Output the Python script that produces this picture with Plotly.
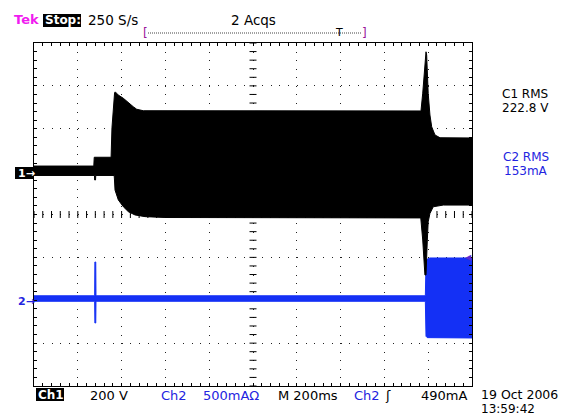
import numpy as np
import plotly.graph_objects as go

# ---------------- figure geometry (pixels) ----------------
W, H = 571, 416
PL, PR, PT, PB = 34, 472, 43, 386   # graticule box

# ---------------- scope settings ----------------
MS_PER_DIV = 200.0      # M 200ms
N_XDIV, N_YDIV = 10, 8
CH1_V_PER_DIV = 200.0   # Ch1 200 V
CH1_OFFSET_DIV = 1.0
CH2_MA_PER_DIV = 500.0  # Ch2 500mA
CH2_OFFSET_DIV = -2.0

# ---------------- Ch1 envelope (time ms, volts) ----------------
ch1_t_upper = [0, 273, 275, 352, 356, 363, 368, 371, 385, 408, 431, 453, 469, 499,
               1765, 1767, 1775, 1781, 1785, 1790, 1793, 1796, 1800, 1808, 1816,
               1831, 1854, 2000]
ch1_v_upper = [26, 26, 67, 67, 204, 334, 368, 372, 357, 342, 320, 303, 291, 284,
               283, 283, 366, 459, 521, 559, 544, 459, 365, 264, 209,
               171, 158, 157]
ch1_t_lower = [0, 276, 277, 281, 282, 366, 367, 370, 385, 408, 431, 461, 507, 598,
               1766, 1775, 1781, 1785, 1790, 1793, 1796, 1800, 1808, 1823, 1869, 2000]
ch1_v_lower = [-18, -18, -39, -39, -18, -18, -30, -86, -132, -164, -187, -202, -210, -214,
               -216, -319, -397, -482, -482, -397, -319, -234, -195, -164, -156, -156]

# ---------------- Ch2 envelope (time ms, mA) ----------------
ch2_t = [0, 277, 278, 282, 283, 1787, 1790, 1796, 1808, 2000]
ch2_i_upper = [52, 52, 446, 446, 52, 52, 440, 480, 493, 493]
ch2_i_lower = [-12, -12, -265, -265, -12, -12, -420, -436, -440, -440]

# ---------------- readouts ----------------
top_labels = {"tek": "Tek", "stop": "Stop:", "rate": "250 S/s", "acqs": "2 Acqs"}
meas1 = ["C1 RMS", "222.8 V"]
meas2 = ["C2 RMS", "153mA"]
bottom_labels = ["200 V", "Ch2", "500mAΩ", "M 200ms", "Ch2", "ʃ", "490mA"]
date_str, time_str = "19 Oct 2006", "13:59:42"

BLUE = "#1430f5"
TXTBLUE = "#2323e0"
MAGENTA = "#f01cf0"
PURPLE = "#9a149a"
FONT = "DejaVu Sans"


def ch1_div(v):
    return [CH1_OFFSET_DIV + x / CH1_V_PER_DIV for x in v]


def ch2_div(i):
    return [CH2_OFFSET_DIV + x / CH2_MA_PER_DIV for x in i]


def px(x):
    return (x - PL) / (PR - PL)


def py(y):
    return (PB - y) / (PB - PT)


fig = go.Figure()

# centre-line ruler ticks (graticule decoration)
xr = np.arange(0, MS_PER_DIV * N_XDIV + 1, MS_PER_DIV / 5)
yr = np.arange(-N_YDIV / 2, N_YDIV / 2 + 0.01, 0.2)
fig.add_trace(go.Scatter(x=xr, y=np.zeros_like(xr), mode="markers",
                         marker=dict(symbol="line-ns", size=5, line=dict(width=1, color="black")),
                         hoverinfo="skip", showlegend=False))
fig.add_trace(go.Scatter(x=np.full_like(yr, MS_PER_DIV * N_XDIV / 2), y=yr, mode="markers",
                         marker=dict(symbol="line-ew", size=5, line=dict(width=1, color="black")),
                         hoverinfo="skip", showlegend=False))

# Ch2 (blue)
fig.add_trace(go.Scatter(
    x=ch2_t + ch2_t[::-1],
    y=ch2_div(ch2_i_upper) + ch2_div(ch2_i_lower)[::-1],
    mode="lines", fill="toself", fillcolor=BLUE,
    line=dict(color=BLUE, width=1), hoverinfo="skip", showlegend=False))

# Ch1 (black)
fig.add_trace(go.Scatter(
    x=ch1_t_upper + ch1_t_lower[::-1],
    y=ch1_div(ch1_v_upper) + ch1_div(ch1_v_lower)[::-1],
    mode="lines", fill="toself", fillcolor="black",
    line=dict(color="black", width=1), hoverinfo="skip", showlegend=False))

fig.update_xaxes(range=[0, MS_PER_DIV * N_XDIV], dtick=MS_PER_DIV, tick0=0,
                 showgrid=True, gridcolor="#222", gridwidth=1, griddash="1px,7.575px",
                 ticks="inside", ticklen=3, tickcolor="black", showticklabels=False,
                 showline=True, linecolor="black", linewidth=1, mirror="allticks",
                 zeroline=False,
                 minor=dict(dtick=MS_PER_DIV / 5, ticks="inside", ticklen=3,
                            tickcolor="black", showgrid=False))
fig.update_yaxes(range=[-N_YDIV / 2, N_YDIV / 2], dtick=1, tick0=0,
                 showgrid=True, gridcolor="#222", gridwidth=1, griddash="1px,7.76px",
                 ticks="inside", ticklen=3, tickcolor="black", showticklabels=False,
                 showline=True, linecolor="black", linewidth=1, mirror="allticks",
                 zeroline=False,
                 minor=dict(dtick=0.2, ticks="inside", ticklen=3,
                            tickcolor="black", showgrid=False))

ann = []
shapes = []


def text(x, y, s, size=13, color="black", anchor="left", bold=False):
    ann.append(dict(x=px(x), y=py(y), xref="paper", yref="paper", text=(f"<b>{s}</b>" if bold else s),
                    showarrow=False, xanchor=anchor, yanchor="middle", borderpad=0,
                    font=dict(family=FONT, size=size, color=color)))


def box(x0, y0, x1, y1, color="black"):
    shapes.append(dict(type="rect", xref="paper", yref="paper", x0=px(x0), x1=px(x1),
                       y0=py(y1), y1=py(y0), fillcolor=color, line=dict(width=0), layer="above"))


# top bar
text(13, 20, top_labels["tek"], 13, MAGENTA, bold=True)
box(43, 14, 81, 27)
text(44, 20, top_labels["stop"], 12, "white", bold=True)
text(87, 20, top_labels["rate"], 13.5)
text(253, 20, top_labels["acqs"], 13.5, anchor="center")
text(145, 33, "[", 12, PURPLE, anchor="center")
text(364, 33, "]", 12, PURPLE, anchor="center")
shapes.append(dict(type="line", xref="paper", yref="paper", x0=px(148), x1=px(361),
                   y0=py(33), y1=py(33), line=dict(color="#444", width=1, dash="1px,1px")))
text(339, 32, "T", 11, "black", anchor="center")

# right readouts
text(525, 93.5, meas1[0], 12, anchor="center")
text(525, 107.5, meas1[1], 12, anchor="center")
text(526, 156.5, meas2[0], 12, TXTBLUE, anchor="center")
text(526, 170.5, meas2[1], 12, TXTBLUE, anchor="center")

# channel ground markers
box(15, 167, 34, 179)
text(17, 173, "1→", 11, "white", bold=True)
text(17, 301, "2→", 11, TXTBLUE, bold=True)
# trigger level marker
text(468, 257, "◀", 8, "#5a2ad0", anchor="center")

# bottom readouts
box(36, 388, 64, 401)
text(37, 395, "Ch1", 12, "white", bold=True)
xs = [89, 160, 202, 277, 353, 384, 420]
cols = ["black", TXTBLUE, TXTBLUE, "black", TXTBLUE, "black", "black"]
for xx, s, c in zip(xs, bottom_labels, cols):
    text(xx, 395, s, 13, c)
text(480, 394.5, date_str, 12.5)
text(480, 408.5, time_str, 12)

fig.update_layout(width=W, height=H, margin=dict(l=PL, r=W - PR, t=PT, b=H - PB, pad=0),
                  paper_bgcolor="white", plot_bgcolor="white",
                  annotations=ann, shapes=shapes, showlegend=False)

fig.write_html("out.html", config={"displayModeBar": False})
